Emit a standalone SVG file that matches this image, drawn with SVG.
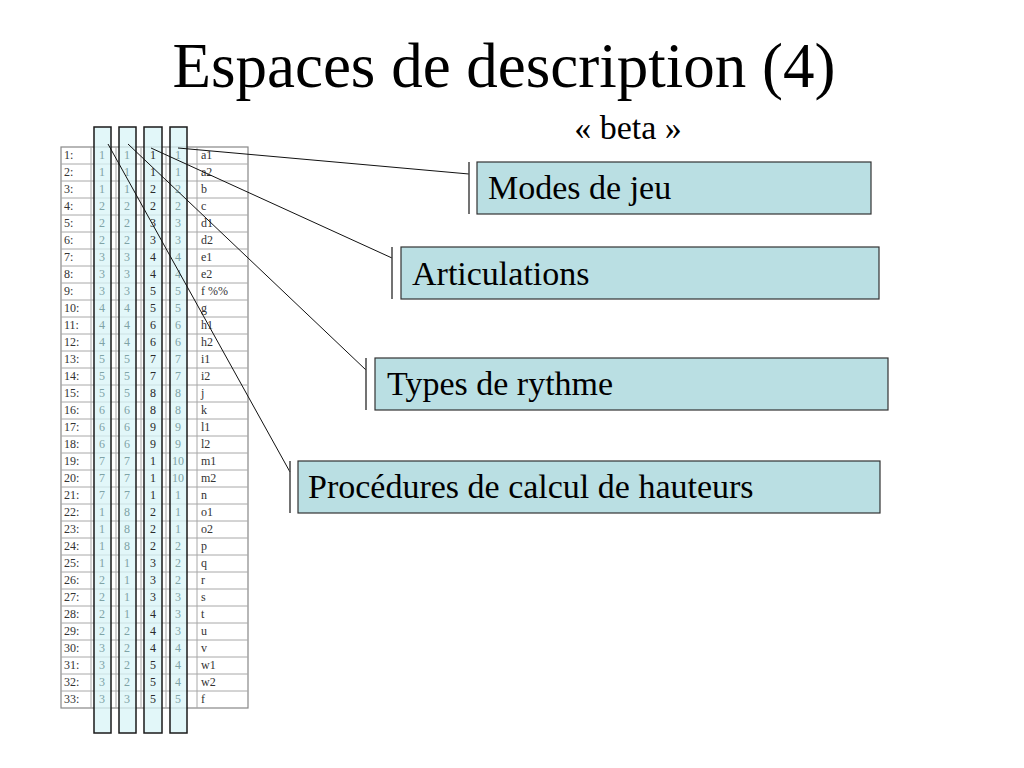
<svg xmlns="http://www.w3.org/2000/svg" width="1024" height="768" viewBox="0 0 1024 768">
<style>
.title{font-family:"Liberation Serif","Times New Roman",serif;font-size:63px;fill:#000}
.sub{font-family:"Liberation Serif","Times New Roman",serif;font-size:34px;fill:#000}
.box{fill:#badfe3;stroke:#333;stroke-width:1.2}
.brk{stroke:#444;stroke-width:1.5}
.lbl{font-family:"Liberation Serif","Times New Roman",serif;font-size:34px;fill:#000}
.grid{stroke:#a8a8a8;stroke-width:1;fill:none}
.strip{fill:#d8f4f7;fill-opacity:0.75;stroke:#1a1a1a;stroke-width:1.5}
.t{font-family:"Liberation Serif","Times New Roman",serif;font-size:12px;fill:#333}
.f{font-family:"Liberation Serif","Times New Roman",serif;font-size:12px;fill:#7fa3a6;text-anchor:middle}
.d{font-family:"Liberation Serif","Times New Roman",serif;font-size:12px;fill:#2a2a2a;text-anchor:middle}
.conn{stroke:#111;stroke-width:1;fill:none}
</style>
<rect width="1024" height="768" fill="#fff"/>
<text class="title" x="504" y="87" text-anchor="middle">Espaces de description (4)</text>
<text class="sub" x="628" y="139" text-anchor="middle">« beta »</text>

<g id="table">
<rect x="61" y="147" width="187" height="561" fill="#fff" stroke="#888" stroke-width="1.2"/>
<path class="grid" d="M61 164H248M61 181H248M61 198H248M61 215H248M61 232H248M61 249H248M61 266H248M61 283H248M61 300H248M61 317H248M61 334H248M61 351H248M61 368H248M61 385H248M61 402H248M61 419H248M61 436H248M61 453H248M61 470H248M61 487H248M61 504H248M61 521H248M61 538H248M61 555H248M61 572H248M61 589H248M61 606H248M61 623H248M61 640H248M61 657H248M61 674H248M61 691H248"/>
<path class="grid" d="M91 147V708M116 147V708M141 147V708M166 147V708M197 147V708"/>
</g>

<g id="strips">
<rect class="strip" x="94" y="127" width="17" height="606"/>
<rect class="strip" x="119" y="127" width="17" height="606"/>
<rect class="strip" x="144" y="127" width="18" height="606"/>
<rect class="strip" x="170" y="127" width="17" height="606"/>
</g>

<g id="table-text">
<g transform="translate(0,159)"><text class="t" x="64">1:</text><text class="f" x="102">1</text><text class="f" x="127">1</text><text class="d" x="153">1</text><text class="f" x="178">1</text><text class="t" x="201">a1</text></g>
<g transform="translate(0,176)"><text class="t" x="64">2:</text><text class="f" x="102">1</text><text class="f" x="127">1</text><text class="d" x="153">1</text><text class="f" x="178">1</text><text class="t" x="201">a2</text></g>
<g transform="translate(0,193)"><text class="t" x="64">3:</text><text class="f" x="102">1</text><text class="f" x="127">1</text><text class="d" x="153">2</text><text class="f" x="178">2</text><text class="t" x="201">b</text></g>
<g transform="translate(0,210)"><text class="t" x="64">4:</text><text class="f" x="102">2</text><text class="f" x="127">2</text><text class="d" x="153">2</text><text class="f" x="178">2</text><text class="t" x="201">c</text></g>
<g transform="translate(0,227)"><text class="t" x="64">5:</text><text class="f" x="102">2</text><text class="f" x="127">2</text><text class="d" x="153">3</text><text class="f" x="178">3</text><text class="t" x="201">d1</text></g>
<g transform="translate(0,244)"><text class="t" x="64">6:</text><text class="f" x="102">2</text><text class="f" x="127">2</text><text class="d" x="153">3</text><text class="f" x="178">3</text><text class="t" x="201">d2</text></g>
<g transform="translate(0,261)"><text class="t" x="64">7:</text><text class="f" x="102">3</text><text class="f" x="127">3</text><text class="d" x="153">4</text><text class="f" x="178">4</text><text class="t" x="201">e1</text></g>
<g transform="translate(0,278)"><text class="t" x="64">8:</text><text class="f" x="102">3</text><text class="f" x="127">3</text><text class="d" x="153">4</text><text class="f" x="178">4</text><text class="t" x="201">e2</text></g>
<g transform="translate(0,295)"><text class="t" x="64">9:</text><text class="f" x="102">3</text><text class="f" x="127">3</text><text class="d" x="153">5</text><text class="f" x="178">5</text><text class="t" x="201">f %%</text></g>
<g transform="translate(0,312)"><text class="t" x="64">10:</text><text class="f" x="102">4</text><text class="f" x="127">4</text><text class="d" x="153">5</text><text class="f" x="178">5</text><text class="t" x="201">g</text></g>
<g transform="translate(0,329)"><text class="t" x="64">11:</text><text class="f" x="102">4</text><text class="f" x="127">4</text><text class="d" x="153">6</text><text class="f" x="178">6</text><text class="t" x="201">h1</text></g>
<g transform="translate(0,346)"><text class="t" x="64">12:</text><text class="f" x="102">4</text><text class="f" x="127">4</text><text class="d" x="153">6</text><text class="f" x="178">6</text><text class="t" x="201">h2</text></g>
<g transform="translate(0,363)"><text class="t" x="64">13:</text><text class="f" x="102">5</text><text class="f" x="127">5</text><text class="d" x="153">7</text><text class="f" x="178">7</text><text class="t" x="201">i1</text></g>
<g transform="translate(0,380)"><text class="t" x="64">14:</text><text class="f" x="102">5</text><text class="f" x="127">5</text><text class="d" x="153">7</text><text class="f" x="178">7</text><text class="t" x="201">i2</text></g>
<g transform="translate(0,397)"><text class="t" x="64">15:</text><text class="f" x="102">5</text><text class="f" x="127">5</text><text class="d" x="153">8</text><text class="f" x="178">8</text><text class="t" x="201">j</text></g>
<g transform="translate(0,414)"><text class="t" x="64">16:</text><text class="f" x="102">6</text><text class="f" x="127">6</text><text class="d" x="153">8</text><text class="f" x="178">8</text><text class="t" x="201">k</text></g>
<g transform="translate(0,431)"><text class="t" x="64">17:</text><text class="f" x="102">6</text><text class="f" x="127">6</text><text class="d" x="153">9</text><text class="f" x="178">9</text><text class="t" x="201">l1</text></g>
<g transform="translate(0,448)"><text class="t" x="64">18:</text><text class="f" x="102">6</text><text class="f" x="127">6</text><text class="d" x="153">9</text><text class="f" x="178">9</text><text class="t" x="201">l2</text></g>
<g transform="translate(0,465)"><text class="t" x="64">19:</text><text class="f" x="102">7</text><text class="f" x="127">7</text><text class="d" x="153">1</text><text class="f" x="178">10</text><text class="t" x="201">m1</text></g>
<g transform="translate(0,482)"><text class="t" x="64">20:</text><text class="f" x="102">7</text><text class="f" x="127">7</text><text class="d" x="153">1</text><text class="f" x="178">10</text><text class="t" x="201">m2</text></g>
<g transform="translate(0,499)"><text class="t" x="64">21:</text><text class="f" x="102">7</text><text class="f" x="127">7</text><text class="d" x="153">1</text><text class="f" x="178">1</text><text class="t" x="201">n</text></g>
<g transform="translate(0,516)"><text class="t" x="64">22:</text><text class="f" x="102">1</text><text class="f" x="127">8</text><text class="d" x="153">2</text><text class="f" x="178">1</text><text class="t" x="201">o1</text></g>
<g transform="translate(0,533)"><text class="t" x="64">23:</text><text class="f" x="102">1</text><text class="f" x="127">8</text><text class="d" x="153">2</text><text class="f" x="178">1</text><text class="t" x="201">o2</text></g>
<g transform="translate(0,550)"><text class="t" x="64">24:</text><text class="f" x="102">1</text><text class="f" x="127">8</text><text class="d" x="153">2</text><text class="f" x="178">2</text><text class="t" x="201">p</text></g>
<g transform="translate(0,567)"><text class="t" x="64">25:</text><text class="f" x="102">1</text><text class="f" x="127">1</text><text class="d" x="153">3</text><text class="f" x="178">2</text><text class="t" x="201">q</text></g>
<g transform="translate(0,584)"><text class="t" x="64">26:</text><text class="f" x="102">2</text><text class="f" x="127">1</text><text class="d" x="153">3</text><text class="f" x="178">2</text><text class="t" x="201">r</text></g>
<g transform="translate(0,601)"><text class="t" x="64">27:</text><text class="f" x="102">2</text><text class="f" x="127">1</text><text class="d" x="153">3</text><text class="f" x="178">3</text><text class="t" x="201">s</text></g>
<g transform="translate(0,618)"><text class="t" x="64">28:</text><text class="f" x="102">2</text><text class="f" x="127">1</text><text class="d" x="153">4</text><text class="f" x="178">3</text><text class="t" x="201">t</text></g>
<g transform="translate(0,635)"><text class="t" x="64">29:</text><text class="f" x="102">2</text><text class="f" x="127">2</text><text class="d" x="153">4</text><text class="f" x="178">3</text><text class="t" x="201">u</text></g>
<g transform="translate(0,652)"><text class="t" x="64">30:</text><text class="f" x="102">3</text><text class="f" x="127">2</text><text class="d" x="153">4</text><text class="f" x="178">4</text><text class="t" x="201">v</text></g>
<g transform="translate(0,669)"><text class="t" x="64">31:</text><text class="f" x="102">3</text><text class="f" x="127">2</text><text class="d" x="153">5</text><text class="f" x="178">4</text><text class="t" x="201">w1</text></g>
<g transform="translate(0,686)"><text class="t" x="64">32:</text><text class="f" x="102">3</text><text class="f" x="127">2</text><text class="d" x="153">5</text><text class="f" x="178">4</text><text class="t" x="201">w2</text></g>
<g transform="translate(0,703)"><text class="t" x="64">33:</text><text class="f" x="102">3</text><text class="f" x="127">3</text><text class="d" x="153">5</text><text class="f" x="178">5</text><text class="t" x="201">f</text></g>
</g>

<g id="connectors">
<line class="conn" x1="178" y1="148" x2="469" y2="174"/>
<line class="conn" x1="151" y1="148" x2="392" y2="258"/>
<line class="conn" x1="128" y1="144" x2="366" y2="370"/>
<line class="conn" x1="108" y1="144" x2="290" y2="472"/>
</g>

<g id="node-modes">
<line class="brk" x1="469" y1="162" x2="469" y2="214"/>
<rect class="box" x="477" y="162" width="394" height="52"/>
<text class="lbl" x="488" y="199">Modes de jeu</text>
</g>
<g id="node-articulations">
<line class="brk" x1="392" y1="247" x2="392" y2="299"/>
<rect class="box" x="401" y="247" width="478" height="52"/>
<text class="lbl" x="412" y="285">Articulations</text>
</g>
<g id="node-rythme">
<line class="brk" x1="366" y1="358" x2="366" y2="410"/>
<rect class="box" x="375" y="358" width="513" height="52"/>
<text class="lbl" x="387" y="395">Types de rythme</text>
</g>
<g id="node-hauteurs">
<line class="brk" x1="290" y1="461" x2="290" y2="513"/>
<rect class="box" x="298" y="461" width="582" height="52"/>
<text class="lbl" x="308" y="498">Procédures de calcul de hauteurs</text>
</g>
</svg>
